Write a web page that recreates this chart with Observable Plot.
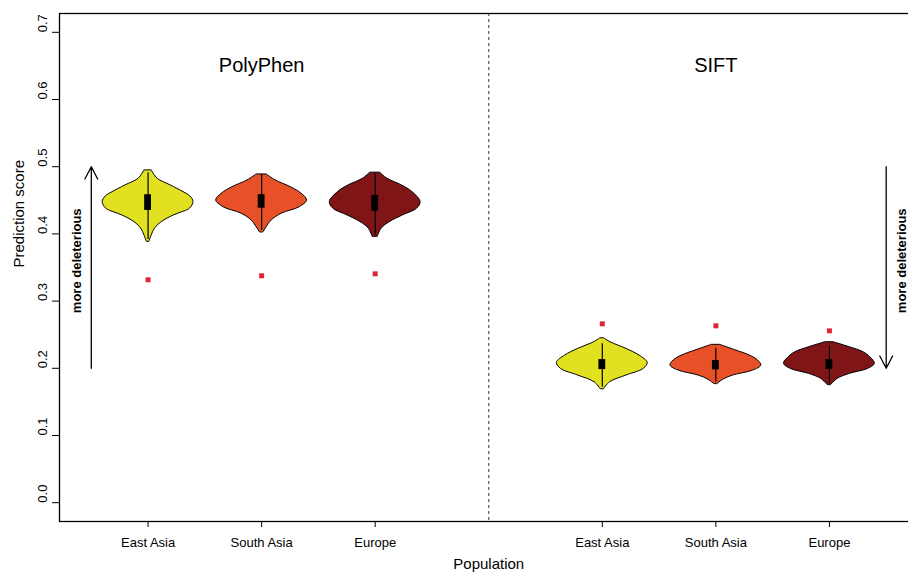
<!DOCTYPE html>
<html><head><meta charset="utf-8">
<script src="https://cdn.jsdelivr.net/npm/d3@7"></script>
<script src="https://cdn.jsdelivr.net/npm/@observablehq/plot@0.6"></script>
<style>html,body{margin:0;padding:0;overflow:hidden;background:#fff;} #chart svg{overflow:hidden;max-width:none;}</style>
</head><body><div id="chart"></div><script>
const populations = ["East Asia", "South Asia", "Europe"];
const methods = ["PolyPhen", "SIFT"];
const popColors = ["#e1e122", "#e85127", "#7f1517"];
const yTicks = [0, 0.1, 0.2, 0.3, 0.4, 0.5, 0.6, 0.7];

// violin profiles: score levels and relative density (1 = widest), order: PolyPhen EA, SA, EU, SIFT EA, SA, EU
const violinScores = [
  [0.3887, 0.3977, 0.4077, 0.4175, 0.4275, 0.4319, 0.4374, 0.4473, 0.4558, 0.4622, 0.4721, 0.4821, 0.4945],
  [0.4026, 0.4100, 0.4200, 0.4300, 0.4398, 0.4498, 0.4598, 0.4696, 0.4796, 0.4885],
  [0.3962, 0.4077, 0.4175, 0.4275, 0.4374, 0.4473, 0.4622, 0.4721, 0.4821, 0.4911],
  [0.1693, 0.1792, 0.1892, 0.1991, 0.2081, 0.2189, 0.2289, 0.2388, 0.2447],
  [0.1768, 0.1828, 0.1892, 0.1966, 0.2040, 0.2115, 0.2189, 0.2264, 0.2349],
  [0.1753, 0.1842, 0.1917, 0.1991, 0.2066, 0.2164, 0.2239, 0.2313, 0.2388]
];
const violinDensity = [
  [0.03, 0.08, 0.15, 0.30, 0.57, 0.74, 0.92, 1.00, 0.93, 0.78, 0.50, 0.21, 0.08],
  [0.04, 0.11, 0.22, 0.44, 0.84, 1.00, 0.88, 0.64, 0.31, 0.11],
  [0.06, 0.14, 0.32, 0.61, 0.92, 1.00, 0.82, 0.59, 0.27, 0.11],
  [0.04, 0.17, 0.53, 0.91, 1.00, 0.82, 0.53, 0.18, 0.04],
  [0.04, 0.16, 0.38, 0.82, 1.00, 0.93, 0.75, 0.45, 0.09],
  [0.04, 0.18, 0.45, 0.85, 1.00, 0.90, 0.75, 0.45, 0.09]
];
const boxLow = [0.4349, 0.4383, 0.4339, 0.1981, 0.1976, 0.1981];
const boxHigh = [0.4583, 0.4583, 0.4573, 0.2130, 0.2115, 0.2130];
const whiskerLow = [0.3917, 0.4051, 0.3987, 0.1717, 0.1792, 0.1768];
const whiskerHigh = [0.4910, 0.4885, 0.4896, 0.2364, 0.2298, 0.2338];
const outliers = [0.3317, 0.3377, 0.3406, 0.2662, 0.2632, 0.2557];

const titleScore = 0.65;
const arrowLow = 0.2, arrowHigh = 0.5;
const noteScore = 0.36;

const groups = methods.flatMap((m, mi) => populations.map((p, pi) => ({method: m, pop: p, pos: mi * 4 + pi + 1})));
const violinRows = groups.flatMap((g, i) => violinScores[i].map((s, j) => ({...g, key: i, score: s, dens: violinDensity[i][j]})));
const halfMax = 0.4, boxHalf = 0.03;
const font = "'Liberation Sans', Arial, Helvetica, sans-serif";

const chart = Plot.plot({
  width: 908,
  height: 572,
  marginLeft: 59,
  marginRight: -9.5,
  marginTop: 13,
  marginBottom: 51,
  style: {fontFamily: font, fontSize: "13px", color: "black", background: "white"},
  x: {domain: [0.22, 7.78], axis: null},
  y: {domain: [-0.028, 0.728], axis: null},
  color: {domain: populations, range: popColors},
  marks: [
    Plot.ruleX([4], {stroke: "#555", strokeDasharray: "3,3", strokeWidth: 1.2}),
    Plot.areaX(violinRows, {y: "score", x1: d => d.pos - halfMax * d.dens, x2: d => d.pos + halfMax * d.dens, z: "key", fill: "pop", stroke: "black", strokeWidth: 1, curve: "catmull-rom"}),
    Plot.ruleX(groups, {x: "pos", y1: whiskerLow, y2: whiskerHigh, stroke: "black", strokeWidth: 1.2}),
    Plot.rect(groups, {x1: d => d.pos - boxHalf, x2: d => d.pos + boxHalf, y1: boxLow, y2: boxHigh, fill: "black"}),
    Plot.dot(groups, {x: "pos", y: outliers, symbol: "square", r: 2.8, fill: "#dc2638", stroke: null}),
    Plot.arrow([{x: 0.5, a: arrowLow, b: arrowHigh}, {x: 7.5, a: arrowHigh, b: arrowLow}], {x1: "x", x2: "x", y1: "a", y2: "b", headLength: 16, headAngle: 55, stroke: "black", strokeWidth: 1.3}),
    Plot.text([{x: 0.37, t: "more deleterious"}, {x: 7.64, t: "more deleterious"}], {x: "x", y: () => noteScore, text: "t", rotate: -90, fontWeight: "bold", fontSize: 13}),
    Plot.text(methods, {x: (d, i) => i * 4 + 2, y: () => titleScore, text: d => d, fontSize: 20}),
    Plot.axisY({ticks: yTicks, tickSize: 7, fill: "none", label: null}),
    Plot.text(yTicks, {y: d => d, text: d => d.toFixed(1), frameAnchor: "left", dx: -17, rotate: -90, fontSize: 13}),
    Plot.text(["Prediction score"], {y: () => 0.35, text: d => d, frameAnchor: "left", dx: -40, rotate: -90, fontSize: 15}),
    Plot.axisX({ticks: groups.map(d => d.pos), tickFormat: d => populations[(d - 1) % 4], tickSize: 6, tickPadding: 10, fontSize: 13, label: null}),
    Plot.text(["Population"], {x: () => 4, text: d => d, frameAnchor: "bottom", dy: 47, fontSize: 15}),
    Plot.frame({stroke: "black", strokeWidth: 1.3})
  ]
});
document.getElementById("chart").appendChild(chart);
</script></body></html>
